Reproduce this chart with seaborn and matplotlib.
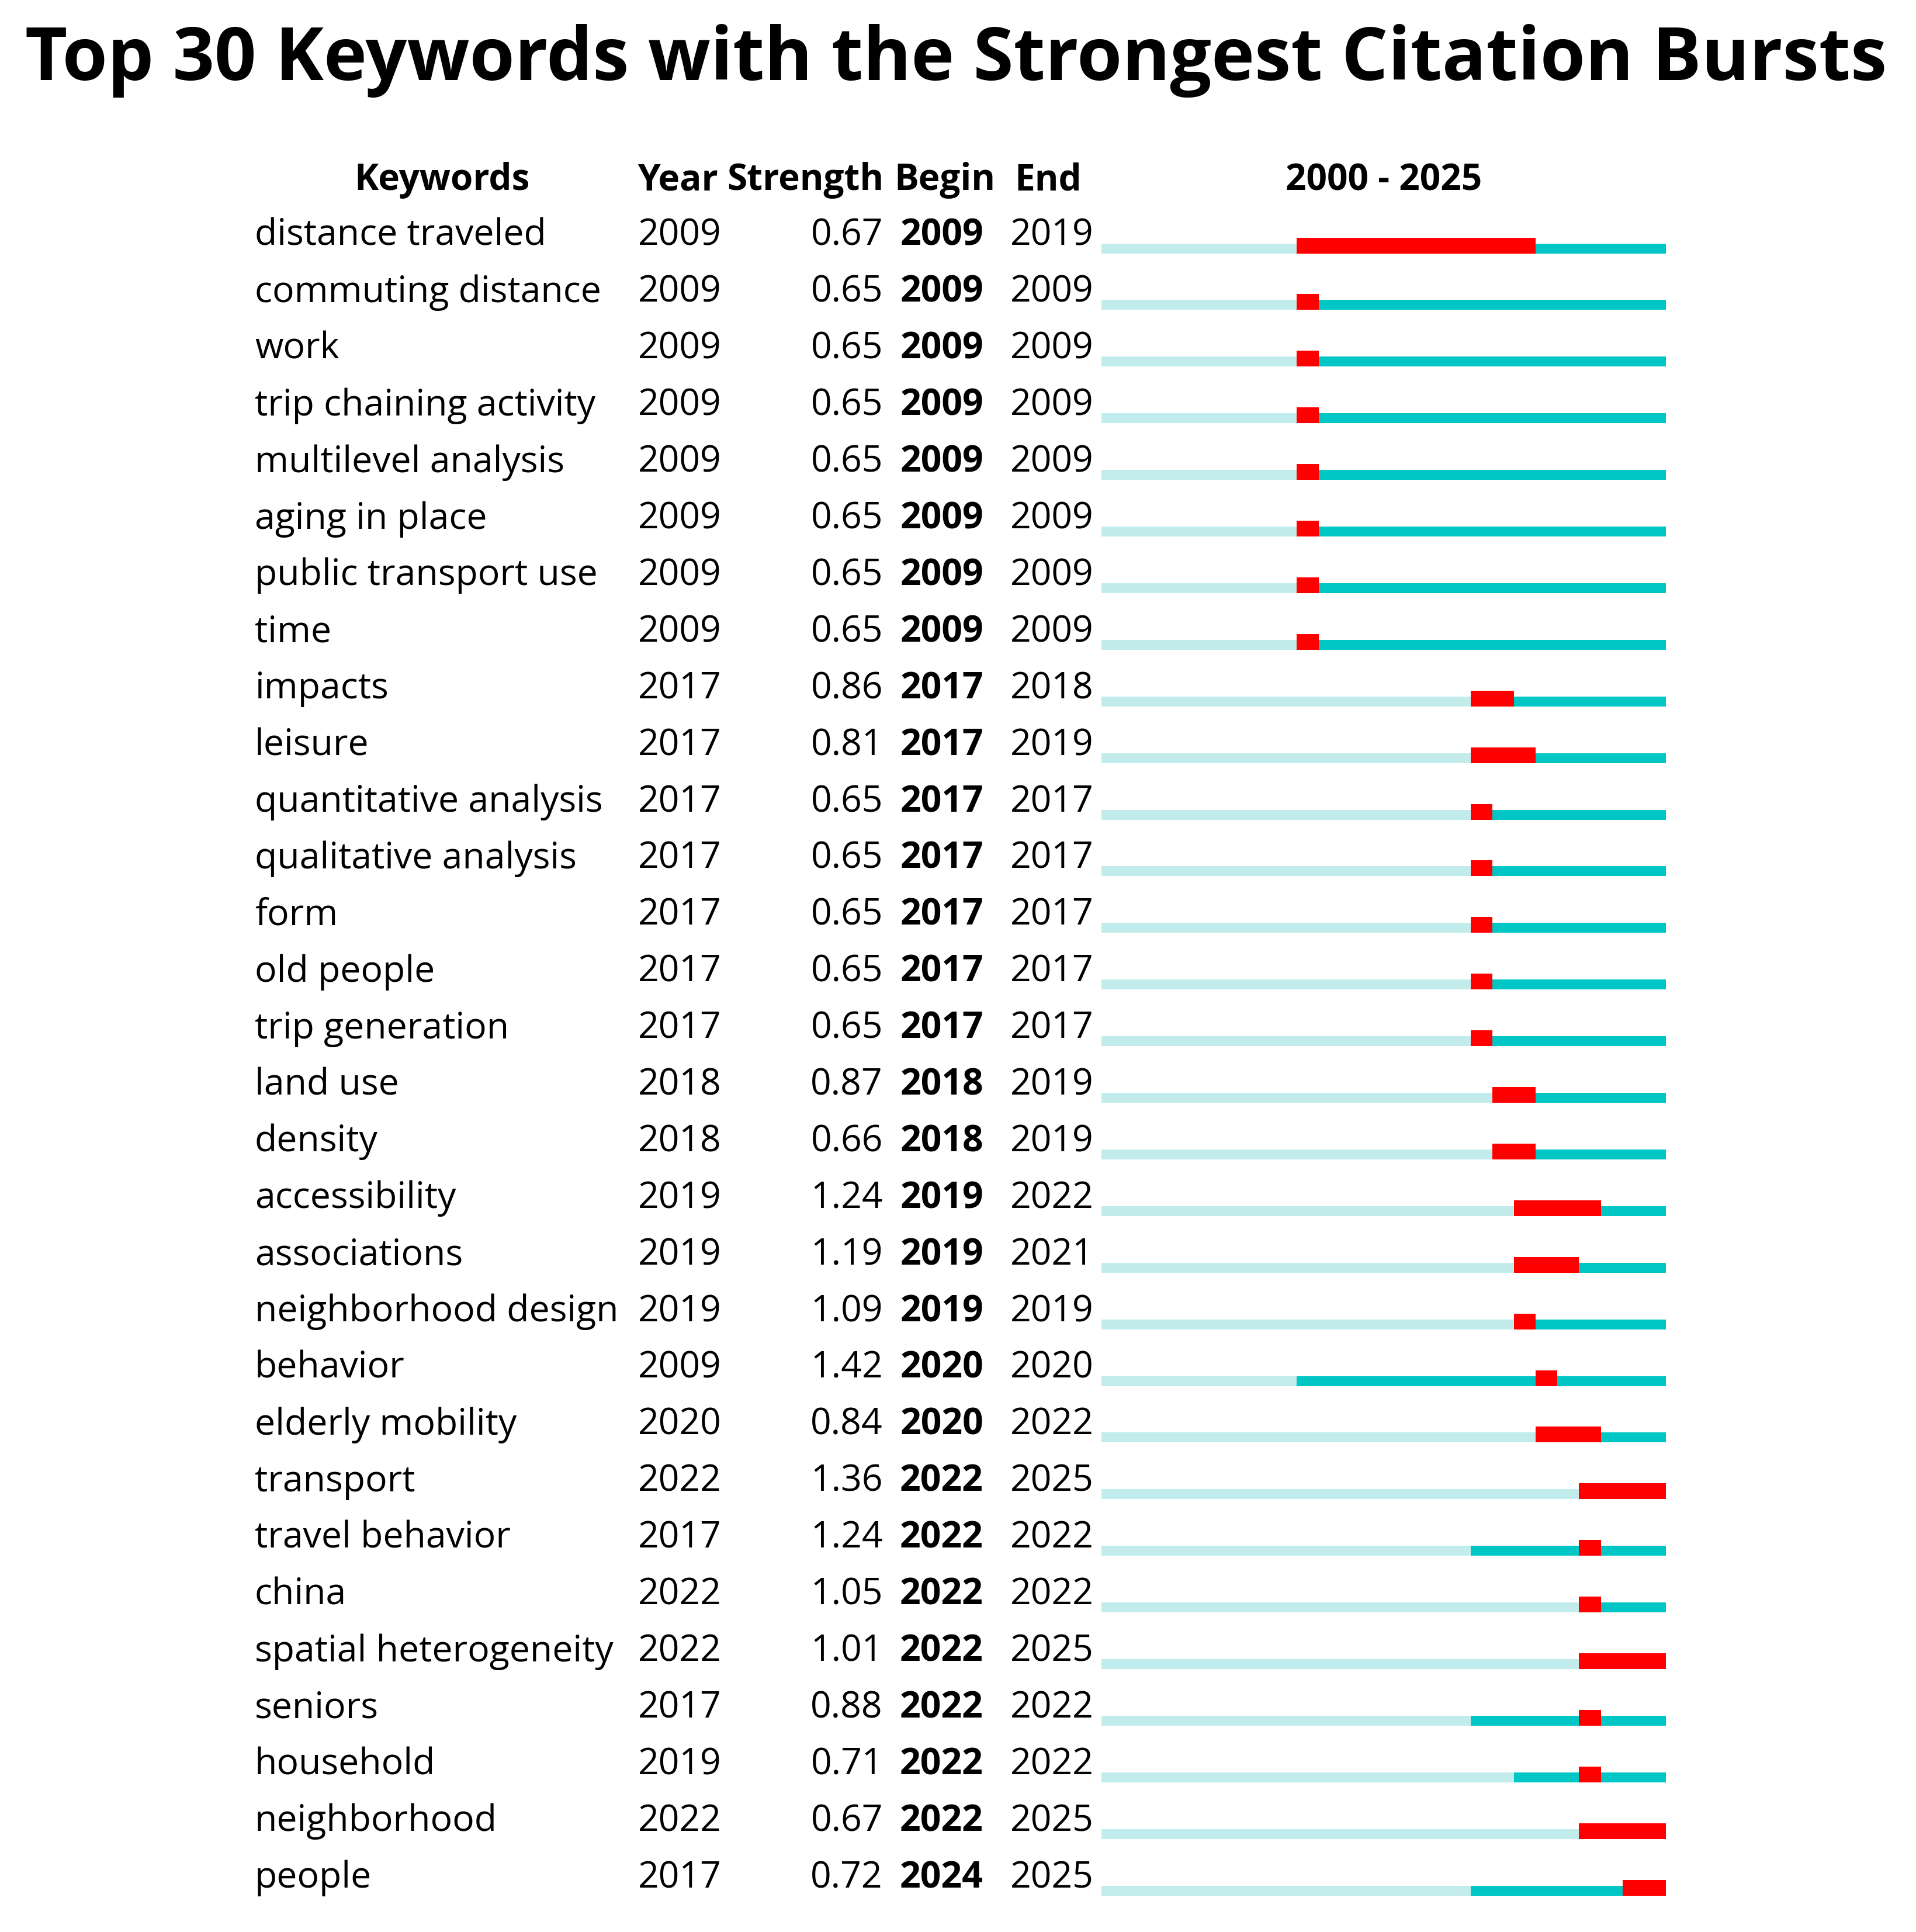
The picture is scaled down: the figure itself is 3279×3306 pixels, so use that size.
import matplotlib
matplotlib.use("Agg")
import matplotlib.pyplot as plt
import matplotlib.transforms as mtransforms
from matplotlib import font_manager
import seaborn as sns
import numpy as np
import pandas as pd

# ---------------- data ----------------
keywords = [
    "distance traveled", "commuting distance", "work", "trip chaining activity",
    "multilevel analysis", "aging in place", "public transport use", "time",
    "impacts", "leisure", "quantitative analysis", "qualitative analysis",
    "form", "old people", "trip generation", "land use", "density",
    "accessibility", "associations", "neighborhood design", "behavior",
    "elderly mobility", "transport", "travel behavior", "china",
    "spatial heterogeneity", "seniors", "household", "neighborhood", "people",
]
year = [2009, 2009, 2009, 2009, 2009, 2009, 2009, 2009,
        2017, 2017, 2017, 2017, 2017, 2017, 2017, 2018, 2018,
        2019, 2019, 2019, 2009, 2020, 2022, 2017, 2022, 2022,
        2017, 2019, 2022, 2017]
strength = [0.67, 0.65, 0.65, 0.65, 0.65, 0.65, 0.65, 0.65,
            0.86, 0.81, 0.65, 0.65, 0.65, 0.65, 0.65, 0.87, 0.66,
            1.24, 1.19, 1.09, 1.42, 0.84, 1.36, 1.24, 1.05, 1.01,
            0.88, 0.71, 0.67, 0.72]
begin = [2009, 2009, 2009, 2009, 2009, 2009, 2009, 2009,
         2017, 2017, 2017, 2017, 2017, 2017, 2017, 2018, 2018,
         2019, 2019, 2019, 2020, 2020, 2022, 2022, 2022, 2022,
         2022, 2022, 2022, 2024]
end = [2019, 2009, 2009, 2009, 2009, 2009, 2009, 2009,
       2018, 2019, 2017, 2017, 2017, 2017, 2017, 2019, 2019,
       2022, 2021, 2019, 2020, 2022, 2025, 2022, 2022, 2025,
       2022, 2022, 2025, 2025]
year_start, year_end = 2000, 2025
title = "Top 30 Keywords with the Strongest Citation Bursts"
headers = ["Keywords", "Year", "Strength", "Begin", "End", f"{year_start} - {year_end}"]

df = pd.DataFrame({"keyword": keywords, "year": year, "strength": strength,
                   "begin": begin, "end": end})

# ---------------- style ----------------
sns.set_theme(style="white")

def pick_family(cands):
    fams = {}
    for f in font_manager.fontManager.ttflist:
        fams.setdefault(f.name, set()).add(
            f.weight if isinstance(f.weight, int) else 400)
    for c in cands:
        w = fams.get(c, set())
        if any(x >= 600 for x in w) and any(x <= 500 for x in w):
            return c
    return "DejaVu Sans"

FAM = pick_family(["Noto Sans", "Open Sans", "Lato", "Roboto", "Liberation Sans"])
plt.rcParams['font.family'] = [FAM, 'DejaVu Sans']
plt.rcParams['text.color'] = 'black'

LIGHT = "#c2ecec"
TEAL = "#00c6c6"
RED = "#ff0000"

W, H, DPI = 3279, 3306, 300
fig = plt.figure(figsize=(W / DPI, H / DPI), dpi=DPI)
fig.patch.set_facecolor("white")

def fx(px):
    return px / W

def fy(py):
    return 1 - py / H

row0, pitch = 425, 96.9
bar_left, bar_right = 1885, 2851
ax = fig.add_axes([fx(bar_left), 0, fx(bar_right) - fx(bar_left), 1])
ax.set_xlim(year_start, year_end + 1)
ax.set_ylim((H - row0) / pitch, -row0 / pitch)
ax.axis("off")

n = len(df)
idx = np.arange(n)
line_h = 17 / pitch
red_h = 27 / pitch

ax.barh(idx, df["year"] - year_start, left=year_start, height=line_h,
        color=LIGHT, linewidth=0)
ax.barh(idx, (year_end + 1) - df["year"], left=df["year"], height=line_h,
        color=TEAL, linewidth=0)
ax.barh(idx + line_h / 2 - red_h / 2, df["end"] - df["begin"] + 1, left=df["begin"],
        height=red_h, color=RED, linewidth=0)

# ---------------- font size calibration ----------------
renderer = fig.canvas.get_renderer()
probe = fig.text(0, 0, "distance traveled", fontsize=15)
pw = probe.get_window_extent(renderer).width
probe.remove()
fs = 15 * 499 / pw
probe = fig.text(0, 0, "Keywords", fontsize=15, fontweight="bold")
pw = probe.get_window_extent(renderer).width
probe.remove()
hfs = 15 * 300 / pw

# ---------------- table text ----------------
tr = mtransforms.blended_transform_factory(fig.transFigure, ax.transData)
for i, r in df.iterrows():
    yy = i - 5 / pitch
    ax.text(fx(436), yy, r["keyword"], transform=tr, ha="left", va="baseline",
            fontsize=fs, color="black")
    ax.text(fx(1092), yy, str(r["year"]), transform=tr, ha="left", va="baseline",
            fontsize=fs, color="black")
    ax.text(fx(1511), yy, f"{r['strength']:.2f}", transform=tr, ha="right",
            va="baseline", fontsize=fs, color="black")
    ax.text(fx(1683), yy, str(r["begin"]), transform=tr, ha="right",
            va="baseline", fontsize=fs, color="black", fontweight="bold")
    ax.text(fx(1729), yy, str(r["end"]), transform=tr, ha="left",
            va="baseline", fontsize=fs, color="black")

hy = fy(325)
hkw = dict(va="baseline", fontsize=hfs, fontweight="bold", color="black")
fig.text(fx(757), hy, headers[0], ha="center", **hkw)
fig.text(fx(1091), hy, headers[1], ha="left", **hkw)
fig.text(fx(1512), hy, headers[2], ha="right", **hkw)
fig.text(fx(1530), hy, headers[3], ha="left", **hkw)
fig.text(fx(1736), hy, headers[4], ha="left", **hkw)
fig.text(fx((bar_left + bar_right) / 2), hy, headers[5], ha="center", **hkw)

# ---------------- title ----------------
t = fig.text(fx(1636), fy(137), title, ha="center", va="baseline",
             fontsize=32, fontweight="bold", color="black")
bb = t.get_window_extent(renderer)
t.set_fontsize(32 * 3188 / bb.width)

fig.savefig("out.png", dpi=DPI, facecolor="white")
